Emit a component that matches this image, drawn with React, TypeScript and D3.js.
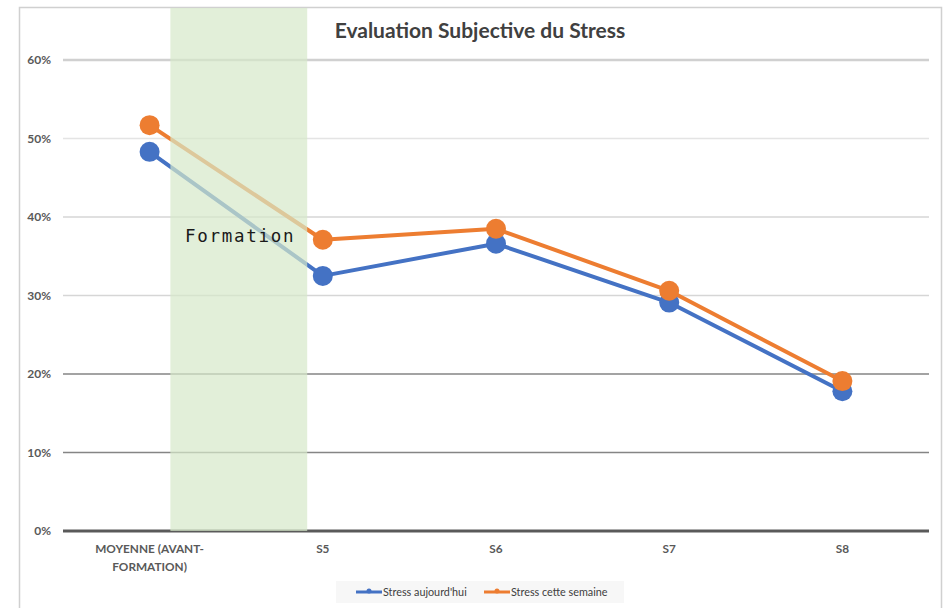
import React from "react";
import * as d3 from "d3";

const categories = ["MOYENNE (AVANT-FORMATION)", "S5", "S6", "S7", "S8"];
const categoryLines = [["MOYENNE (AVANT-", "FORMATION)"], ["S5"], ["S6"], ["S7"], ["S8"]];
const stressToday = [0.483, 0.325, 0.366, 0.291, 0.178];
const stressWeek = [0.517, 0.371, 0.385, 0.306, 0.191];
const yTicks = [0, 0.1, 0.2, 0.3, 0.4, 0.5, 0.6];
const seriesNames = ["Stress aujourd'hui", "Stress cette semaine"];
const seriesColors = ["#4472c4", "#ed7d31"];
const title = "Evaluation Subjective du Stress";
const bandLabel = "Formation";

const W = 948, H = 608;
const plot = { left: 63, right: 929, top: 7, bottom: 531 };

export default function App() {
  const x = d3.scaleBand<string>().domain(categories).range([plot.left, plot.right]);
  const y = d3.scaleLinear().domain([0, 0.6]).range([531, 60]);
  const cx = (c: string) => (x(c) as number) + x.bandwidth() / 2;
  const line = d3.line<number>().x((_, i) => cx(categories[i])).y((v) => y(v));
  const series = [stressToday, stressWeek];
  const gridStyles: Record<number, [string, number]> = {
    0: ["#5a5a5a", 3],
    1: ["#858585", 1.5],
    2: ["#858585", 1.5],
    3: ["#d6d6d6", 1.5],
    4: ["#d6d6d6", 1.5],
    5: ["#e4e4e4", 1.5],
    6: ["#d0d0d0", 2.5],
  };
  const bandX0 = (x(categories[0]) as number) + x.bandwidth() * 0.62;
  const bandX1 = cx(categories[1]) - x.bandwidth() * 0.09;
  const font = "Lato, 'Open Sans', sans-serif";
  return (
    <svg width={W} height={H} style={{ position: "absolute", left: 0, top: 0, background: "#fff" }}>
      <rect x={0} y={0} width={W} height={H} fill="#fff" />
      <path d={`M19.5,${H} V7.5 H941.5 V${H}`} fill="none" stroke="#d0d0d0" strokeWidth={1.5} />
      <text x={480} y={38} textAnchor="middle" fontFamily={font} fontWeight="bold" fontSize={21} fill="#404040">{title}</text>
      {yTicks.map((t, i) => {
        const [col, sw] = gridStyles[i];
        return (
          <g key={t}>
            <line x1={plot.left} x2={plot.right} y1={y(t)} y2={y(t)} stroke={col} strokeWidth={sw} />
            <text x={51} y={y(t) + 4} textAnchor="end" fontFamily={font} fontWeight="bold" fontSize={12} fill="#595959">{d3.format(".0%")(t)}</text>
          </g>
        );
      })}
      {categories.map((c, i) => (
        <text key={c} x={cx(c)} y={553} textAnchor="middle" fontFamily={font} fontWeight="bold" fontSize={11.8} fill="#595959">
          {categoryLines[i].map((l, j) => (
            <tspan key={j} x={cx(c)} dy={j === 0 ? 0 : 18}>{l}</tspan>
          ))}
        </text>
      ))}
      {series.map((s, k) => (
        <path key={k} d={line(s) || ""} fill="none" stroke={seriesColors[k]} strokeWidth={4} strokeLinejoin="round" />
      ))}
      <rect x={bandX0} y={plot.top + 1} width={bandX1 - bandX0} height={plot.bottom - plot.top - 1} fill="rgb(213,232,201)" fillOpacity={0.7} />
      {series.map((s, k) => (
        <g key={k}>
          {s.map((v, i) => (
            <circle key={i} cx={cx(categories[i])} cy={y(v)} r={10} fill={seriesColors[k]} />
          ))}
        </g>
      ))}
      <text x={185} y={242} fontFamily="'DejaVu Sans Mono', monospace" fontSize={17.5} letterSpacing={1.7} fill="#1a1a1a">{bandLabel}</text>
      <rect x={336} y={581} width={288} height={22} fill="#f7f7f7" />
      {seriesNames.map((n, k) => {
        const lx = k === 0 ? 356 : 484;
        return (
          <g key={n}>
            <line x1={lx} x2={lx + 26} y1={592} y2={592} stroke={seriesColors[k]} strokeWidth={3} />
            <circle cx={lx + 13} cy={591} r={2.5} fill={seriesColors[k]} />
            <text x={lx + 27} y={595.5} fontFamily={font} fontSize={10.8} fill="#404040">{n}</text>
          </g>
        );
      })}
    </svg>
  );
}
